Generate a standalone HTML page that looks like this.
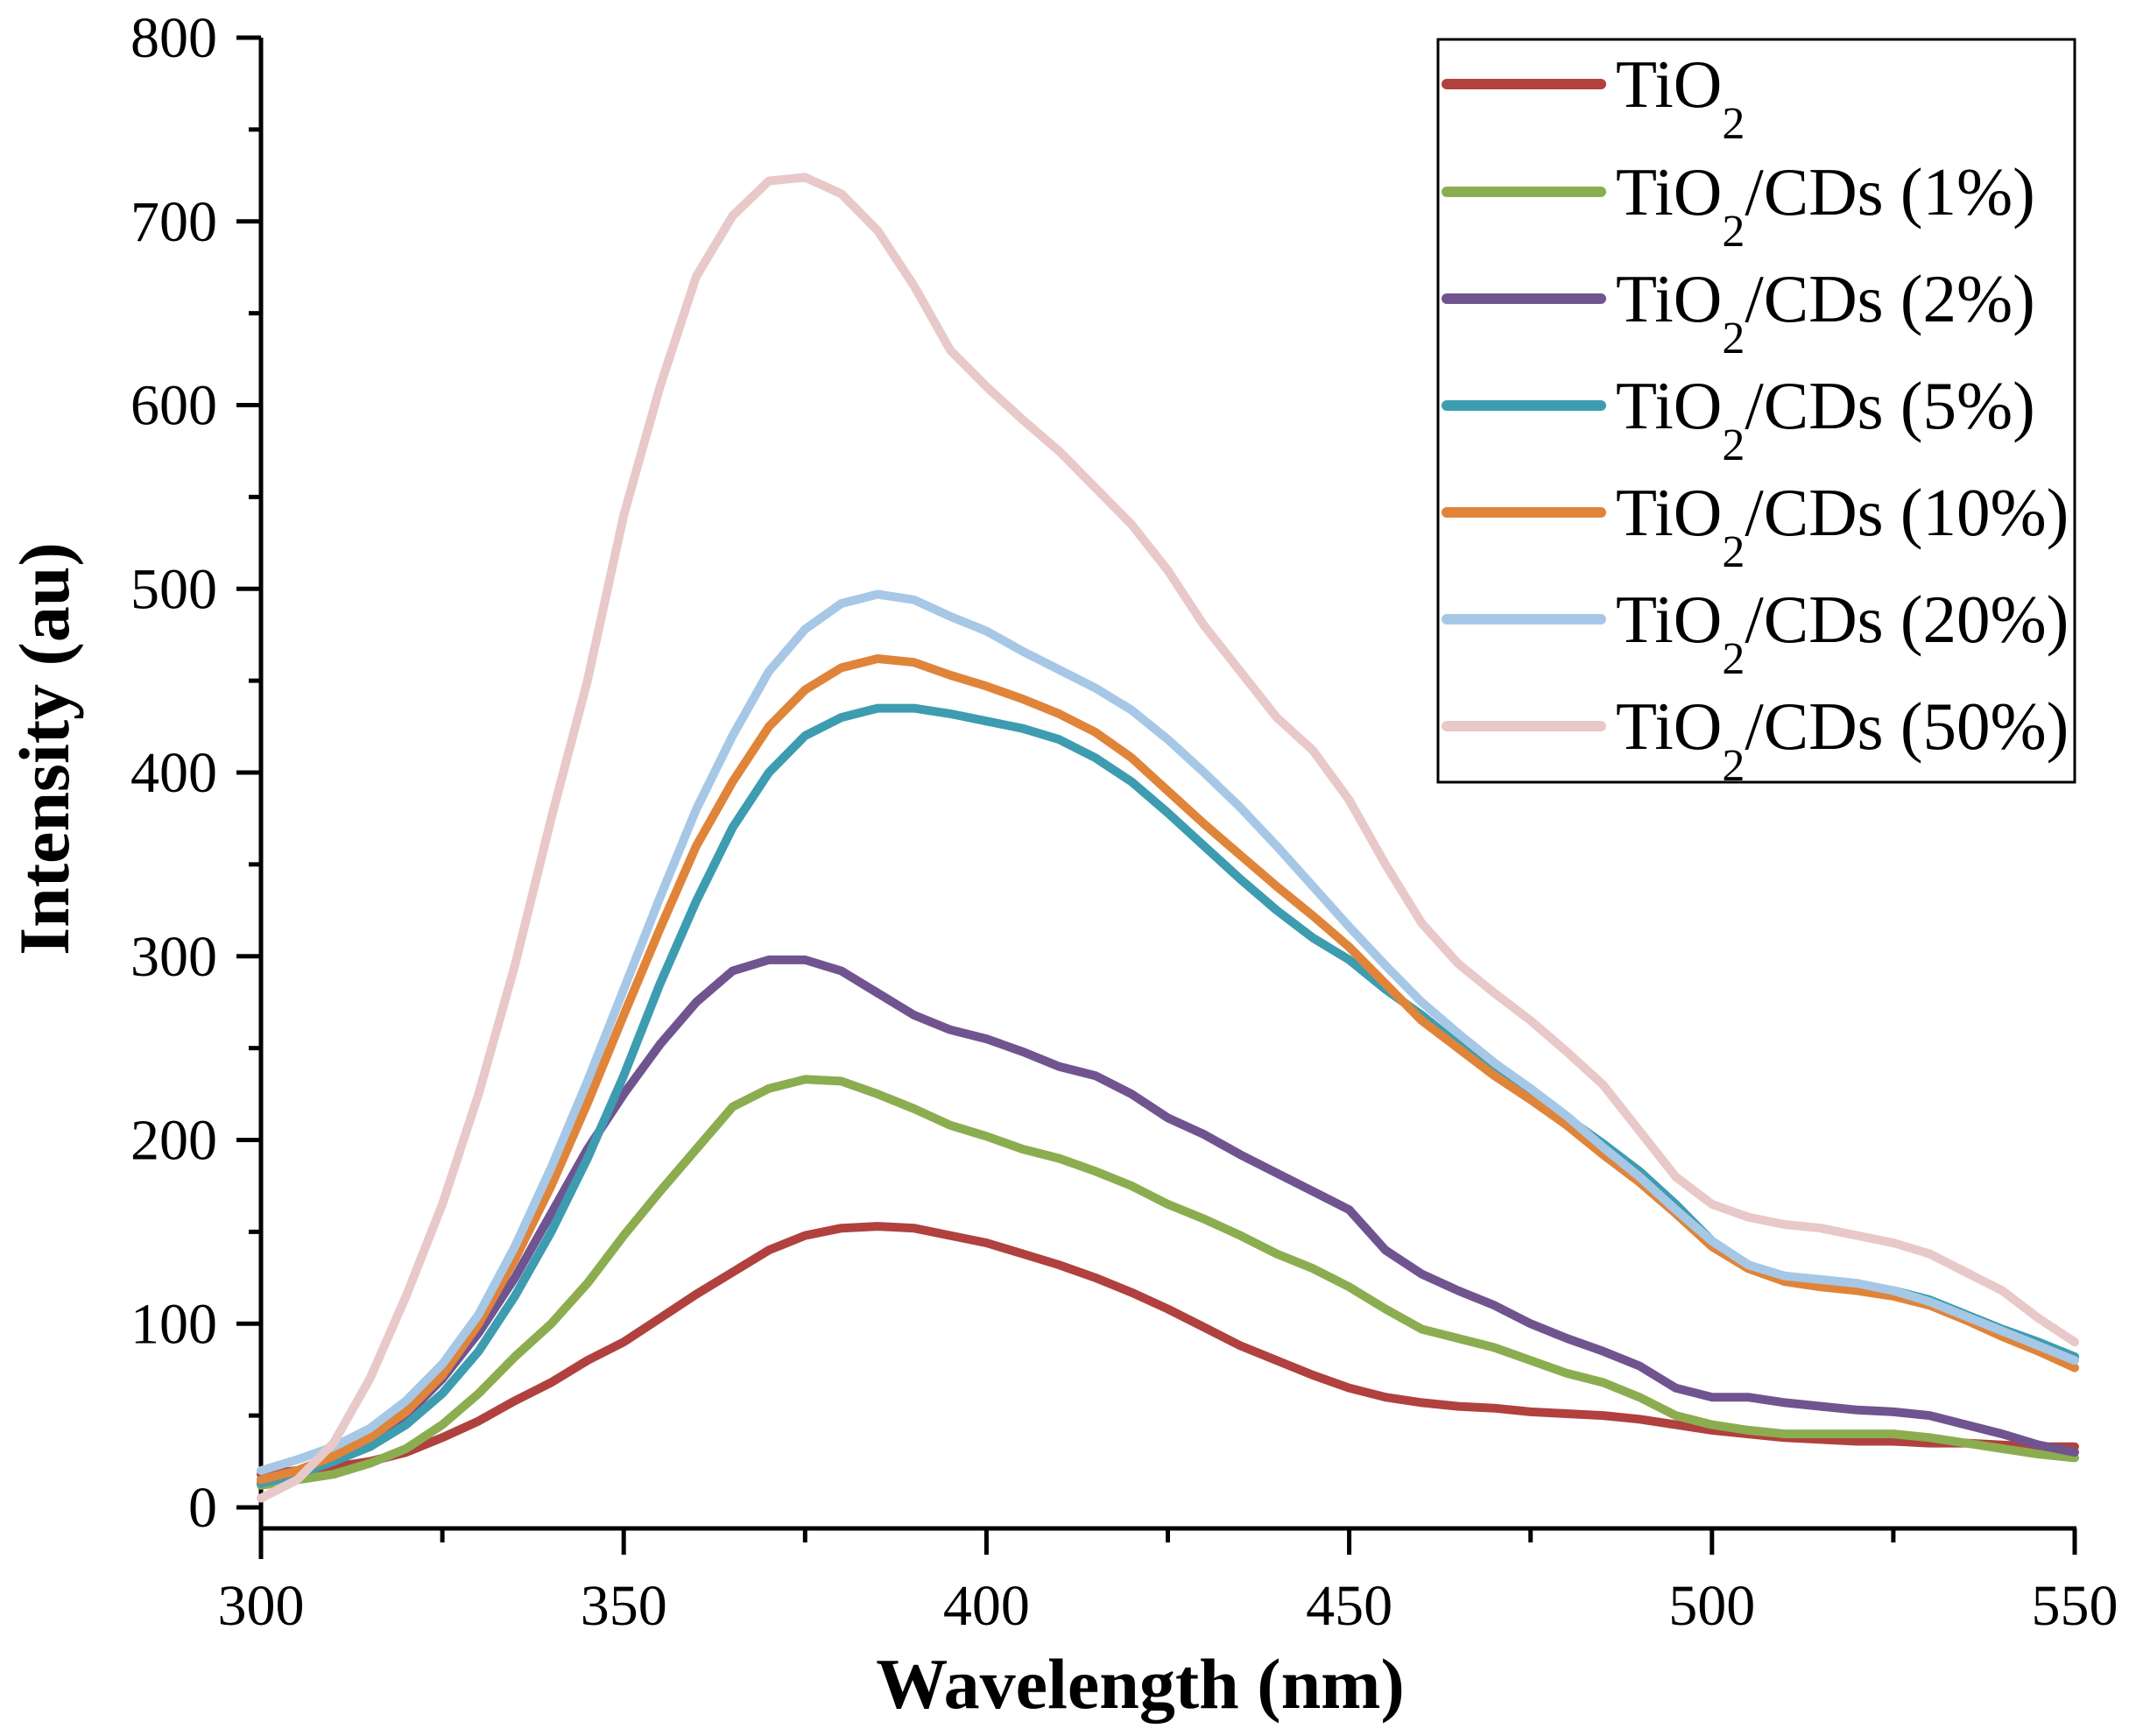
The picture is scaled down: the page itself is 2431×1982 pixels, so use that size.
<!DOCTYPE html>
<html><head><meta charset="utf-8"><style>
html,body{margin:0;padding:0;background:#fff;}
svg{display:block;font-family:"Liberation Serif",serif;}
</style></head><body>
<svg id="chart" width="2431" height="1982" viewBox="0 0 2431 1982" xmlns="http://www.w3.org/2000/svg">
<g id="axes"></g>
<g id="series"></g>
<g id="legend"></g>
<text x="0" y="0" transform="translate(78,855) rotate(-90)" text-anchor="middle" font-size="82" font-weight="bold">Intensity (au)</text>
<text x="1302" y="1950" text-anchor="middle" font-size="82" font-weight="bold">Wavelength (nm)</text>
</svg>
<script>
const wavelengths=[300,305,310,315,320,325,330,335,340,345,350,355,360,365,370,375,380,385,390,395,400,405,410,415,420,425,430,435,440,445,450,455,460,465,470,475,480,485,490,495,500,505,510,515,520,525,530,535,540,545,550];
const tio2=[18,20,22,25,30,38,47,58,68,80,90,103,116,128,140,148,152,153,152,148,144,138,132,125,117,108,98,88,80,72,65,60,57,55,54,52,51,50,48,45,42,40,38,37,36,36,35,35,34,33,33];
const cd1=[12,15,18,24,32,45,62,82,100,122,148,172,195,218,228,233,232,225,217,208,202,195,190,183,175,165,157,148,138,130,120,108,97,92,87,80,73,68,60,50,45,42,40,40,40,40,38,35,32,29,27];
const cd2=[15,20,25,35,50,70,95,125,160,195,225,252,275,292,298,298,292,280,268,260,255,248,240,235,225,212,203,192,182,172,162,140,127,118,110,100,92,85,77,65,60,60,57,55,53,52,50,45,40,34,30];
const cd5=[13,18,25,33,45,62,85,115,150,190,235,285,330,370,400,420,430,435,435,432,428,424,418,408,395,378,360,342,325,310,298,282,268,252,238,225,212,198,183,165,145,132,125,122,120,118,113,105,97,90,82];
const cd10=[15,20,28,38,52,72,100,135,175,220,268,315,360,395,425,445,457,462,460,453,447,440,432,422,408,390,372,355,338,322,305,285,265,250,235,222,208,192,177,160,142,130,123,120,118,115,110,102,93,85,76];
const cd20=[20,26,33,43,58,78,105,142,185,232,282,332,380,420,455,478,492,497,494,485,477,466,456,446,434,418,400,381,360,338,316,295,275,258,242,228,213,196,180,162,145,132,126,124,122,118,112,104,96,88,80];
const cd50=[5,15,35,70,115,165,225,295,375,450,540,610,670,703,722,724,715,695,665,630,610,592,575,555,535,510,480,455,430,412,385,350,318,296,280,265,248,230,205,180,165,158,154,152,148,144,138,128,118,103,90];
const seriesLabels=["TiO2","TiO2/CDs (1%)","TiO2/CDs (2%)","TiO2/CDs (5%)","TiO2/CDs (10%)","TiO2/CDs (20%)","TiO2/CDs (50%)"];
const legendSuffix=["","/CDs (1%)","/CDs (2%)","/CDs (5%)","/CDs (10%)","/CDs (20%)","/CDs (50%)"];
const xTicks=[300,350,400,450,500,550];
const yTicks=[0,100,200,300,400,500,600,700,800];

const allSeries=[tio2,cd1,cd2,cd5,cd10,cd20,cd50];
const colors=["#b0413e","#8bad50","#70548f","#3d9cb0","#e0843a","#a6c8e6","#e8c8c8"];
const names=["tio2","cds-1pct","cds-2pct","cds-5pct","cds-10pct","cds-20pct","cds-50pct"];
const X0=298,X1=2369,Y0=1721,Y1=43;
const xs=v=>X0+(v-300)/(550-300)*(X1-X0);
const ys=v=>Y0-(v-0)/(800-0)*(Y0-Y1);
const NS="http://www.w3.org/2000/svg";
function mk(t,a,p){const e=document.createElementNS(NS,t);for(const k in a)e.setAttribute(k,a[k]);p.appendChild(e);return e;}
const axes=document.getElementById('axes');
let l=mk('line',{x1:X0,y1:Y1,x2:X0,y2:1780,stroke:'#000','stroke-width':5},axes);


l=mk('line',{x1:X0-2,y1:1745,x2:X1+2,y2:1745,stroke:'#000','stroke-width':5},axes);


for(let v=0;v<=800;v+=50){
  const major=v%100===0;
  const t=mk('line',{x1:X0-(major?28:14),y1:ys(v),x2:X0,y2:ys(v),stroke:'#000','stroke-width':5},axes);
  
  
}
yTicks.forEach(v=>{
  const t=mk('text',{x:248,y:ys(v)+22,'text-anchor':'end','font-size':66},axes);
  t.textContent=v;
  
  
});
for(let v=300;v<=550;v+=25){
  const major=v%50===0;
  const t=mk('line',{x1:xs(v),y1:1745,x2:xs(v),y2:1745+(major?30:16),stroke:'#000','stroke-width':5},axes);
  
  
}
xTicks.forEach(v=>{
  const t=mk('text',{x:xs(v),y:1855,'text-anchor':'middle','font-size':66},axes);
  t.textContent=v;
  
  
});
const sg=document.getElementById('series');
allSeries.forEach((s,i)=>{
  const d=s.map((v,j)=>(j?'L':'M')+xs(wavelengths[j]).toFixed(1)+','+ys(v).toFixed(1)).join(' ');
  const p=mk('path',{d:d,fill:'none',stroke:colors[i],'stroke-width':10,'stroke-linejoin':'round','stroke-linecap':'round'},sg);
  
  
});
const lg=document.getElementById('legend');
const box=mk('rect',{x:1642,y:45,width:727,height:848,fill:'#fff',stroke:'#000','stroke-width':3},lg);


const ly=[96,219,341,463,585,707,829];
seriesLabels.forEach((s,i)=>{
  const g=mk('g',{},lg);
  
  
  mk('line',{x1:1652,y1:ly[i],x2:1828,y2:ly[i],stroke:colors[i],'stroke-width':12,'stroke-linecap':'round'},g);
  const t=mk('text',{x:1845,y:ly[i]+26,'font-size':77},g);
  t.appendChild(document.createTextNode('TiO'));
  const sub=mk('tspan',{'font-size':52,dy:36},t);
  sub.textContent='2';
  const rest=mk('tspan',{dy:-36},t);
  rest.textContent=legendSuffix[i];
});
</script>
</body></html>
